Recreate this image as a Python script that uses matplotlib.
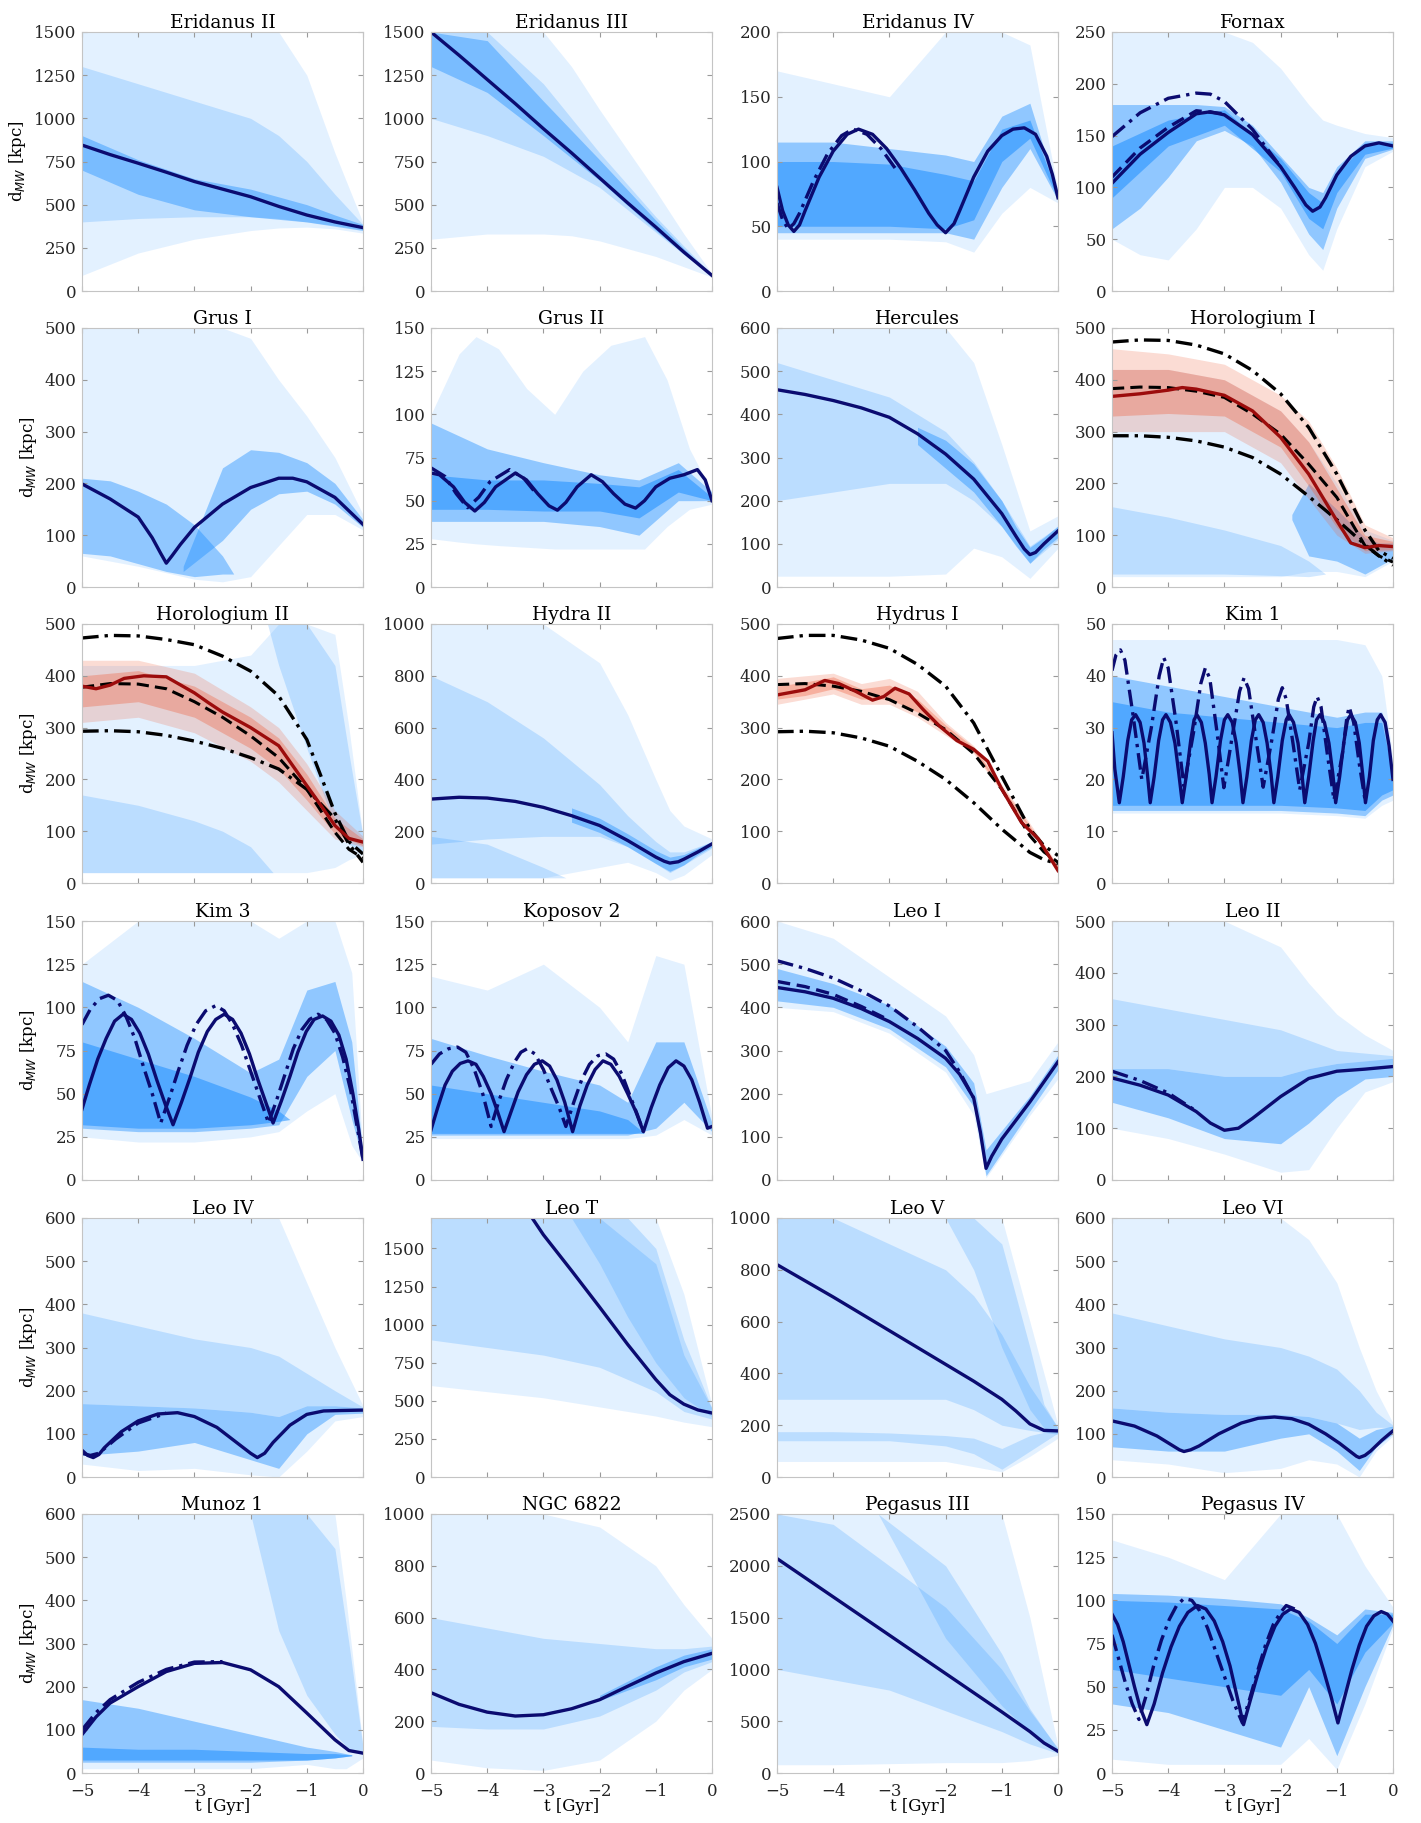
import matplotlib
matplotlib.use('Agg')
import matplotlib.pyplot as plt

plt.rcParams['font.family'] = ['DejaVu Serif']
plt.rcParams['mathtext.fontset'] = 'dejavusans'

# ---------------- data ----------------
T11 = [-5, -4.5, -4, -3.5, -3, -2.5, -2, -1.5, -1, -0.5, 0]
T8 = [-5, -4, -3, -2, -1.5, -1, -0.5, 0]

titles = ['Eridanus II', 'Eridanus III', 'Eridanus IV', 'Fornax',
          'Grus I', 'Grus II', 'Hercules', 'Horologium I',
          'Horologium II', 'Hydra II', 'Hydrus I', 'Kim 1',
          'Kim 3', 'Koposov 2', 'Leo I', 'Leo II',
          'Leo IV', 'Leo T', 'Leo V', 'Leo VI',
          'Munoz 1', 'NGC 6822', 'Pegasus III', 'Pegasus IV']
ymax = [1500, 1500, 200, 250, 500, 150, 600, 500, 500, 1000, 500, 50,
        150, 150, 600, 500, 600, 1700, 1000, 600, 600, 1000, 2500, 150]
ystep = [250, 250, 50, 50, 100, 25, 100, 100, 100, 200, 100, 10,
         25, 25, 100, 100, 100, 250, 200, 100, 100, 200, 500, 25]
ytop_tick = [1500, 1500, 200, 250, 500, 150, 600, 500, 500, 1000, 500, 50,
             150, 150, 600, 500, 600, 1500, 1000, 600, 600, 1000, 2500, 150]
xticks = [-5, -4, -3, -2, -1, 0]

# Eridanus II
eri2_main = (T11, [845, 790, 740, 688, 634, 590, 546, 490, 440, 400, 367])
eri2_cloud = [('outer', T8, [90, 220, 300, 350, 365, 370, 360, 335], [1500, 1500, 1500, 1500, 1500, 1250, 800, 395]),
              ('mid', T8, [400, 420, 430, 430, 420, 400, 380, 355], [1300, 1200, 1100, 1000, 900, 750, 560, 385]),
              ('dense', [-5, -4, -3, -2, -1, -0.5, 0], [700, 560, 470, 430, 400, 375, 350], [900, 760, 650, 590, 500, 440, 385])]
# Eridanus III
eri3_main = (T11, [1500, 1365, 1225, 1085, 940, 800, 655, 510, 370, 225, 90])
eri3_cloud = [('outer', [-5, -4, -3, -2.5, -2, -1, -0.5, 0], [300, 330, 330, 320, 290, 200, 140, 80], [1500, 1500, 1500, 1300, 1050, 580, 330, 100]),
              ('mid', [-5, -4, -3, -2, -1, -0.5, 0], [1000, 900, 780, 600, 340, 210, 85], [1500, 1500, 1200, 800, 430, 260, 95]),
              ('dense', [-5, -4, -3, -2, -1, -0.5, 0], [1300, 1150, 900, 640, 350, 215, 87], [1500, 1450, 1100, 760, 410, 245, 93])]
# Eridanus IV
eri4_main = ([-5, -4.9, -4.8, -4.7, -4.6, -4.5, -4.25, -4.0, -3.75, -3.55, -3.3, -3.05, -2.8, -2.55, -2.3, -2.15, -2.0, -1.85, -1.75, -1.5, -1.25, -1.0, -0.8, -0.6, -0.4, -0.2, -0.1, 0],
             [80, 62, 51, 46, 51, 62, 88, 108, 121, 125, 121, 110, 95, 78, 60, 51, 45, 52, 62, 88, 108, 120, 125, 126, 121, 104, 90, 72])
eri4_dd = ([-5, -4.9, -4.8, -4.7, -4.6, -4.35, -4.1, -3.85, -3.65, -3.4, -3.15, -2.9],
           [68, 55, 48, 52, 60, 85, 106, 120, 125, 121, 110, 95])
eri4_cloud = [('outer', [-5, -4, -3, -2, -1.5, -1, -0.5, 0], [40, 40, 40, 38, 30, 60, 80, 68], [170, 160, 150, 200, 200, 200, 190, 78]),
              ('dense', [-5, -4, -3, -2, -1.5, -1, -0.5, 0], [45, 45, 45, 45, 40, 80, 110, 70], [115, 115, 110, 105, 100, 135, 145, 75]),
              ('core', [-5, -4, -3, -2, -1.5, -1, -0.5, 0], [50, 50, 50, 48, 55, 100, 118, 71], [100, 100, 98, 90, 85, 125, 132, 74])]
# Fornax
forn_main = ([-5, -4.5, -4, -3.5, -3.25, -3, -2.5, -2, -1.75, -1.55, -1.43, -1.3, -1.2, -1, -0.75, -0.5, -0.25, 0],
             [104, 132, 153, 171, 173, 170, 151, 120, 100, 83, 77, 81, 90, 112, 130, 140, 143, 140])
forn_dd = ([-5, -4.5, -4, -3.5, -3.25, -3, -2.5, -2], [149, 172, 186, 191, 190, 183, 156, 120])
forn_dash = ([-5, -4.5, -4, -3.5, -3], [110, 138, 158, 174, 171])
forn_cloud = [('outer', [-5, -4.5, -4, -3.5, -3, -2.5, -2, -1.5, -1.25, -1, -0.5, 0],
               [50, 35, 30, 60, 100, 100, 80, 35, 20, 60, 120, 135],
               [250, 250, 250, 250, 250, 240, 215, 180, 165, 160, 152, 148]),
              ('dense', [-5, -4.5, -4, -3.5, -3, -2.5, -2, -1.5, -1.25, -1, -0.5, 0],
               [60, 80, 110, 145, 155, 140, 105, 55, 40, 80, 128, 137],
               [180, 180, 180, 180, 178, 160, 130, 100, 95, 120, 145, 145]),
              ('core', [-5, -4, -3, -2, -1.5, -1.25, -1, -0.5, 0],
               [90, 140, 160, 115, 70, 60, 95, 132, 138],
               [140, 165, 175, 128, 95, 85, 112, 143, 143])]
# Grus I
grus1_main = ([-5, -4.5, -4, -3.75, -3.6, -3.5, -3.4, -3.25, -3, -2.5, -2, -1.5, -1.25, -1, -0.5, 0],
              [199, 170, 135, 95, 65, 46, 60, 82, 115, 160, 192, 210, 210, 203, 173, 121])
grus1_cloud = [('outer', [-5, -4, -3, -2.5, -2, -1.5, -1, -0.5, 0], [60, 40, 15, 10, 20, 80, 140, 140, 110], [500, 500, 500, 500, 480, 400, 330, 250, 140]),
               ('dense', [-3.2, -2.5, -2, -1.5, -1, -0.5, 0], [30, 90, 150, 180, 185, 160, 115], [40, 230, 265, 260, 240, 200, 130]),
               ('dense', [-5, -4.5, -4, -3.5, -3, -2.5, -2.3], [65, 60, 45, 30, 20, 25, 25], [210, 205, 185, 160, 120, 60, 25])]
# Grus II
grus2_main = ([-5, -4.85, -4.6, -4.4, -4.22, -4.05, -3.85, -3.5, -3.3, -3.1, -2.9, -2.75, -2.6, -2.4, -2.15, -1.95, -1.75, -1.55, -1.36, -1.2, -1.0, -0.75, -0.5, -0.26, -0.12, 0],
              [66, 65, 58, 49, 44, 49, 58, 66, 62, 54, 47, 44.5, 49, 58, 65, 61, 54, 48, 45.7, 50, 58, 63, 65, 68, 62, 50])
grus2_dd = ([-5, -4.75, -4.55, -4.35, -4.15, -3.95, -3.6, -3.35, -3.15], [69, 64, 54, 46, 52, 61, 68, 63, 55])
grus2_cloud = [('outer', [-5, -4.5, -4.2, -3.8, -3.3, -2.8, -2.3, -1.8, -1.2, -0.8, -0.4, 0],
                [28, 26, 25, 24, 23, 22, 22, 22, 22, 35, 45, 48],
                [100, 135, 145, 138, 115, 100, 125, 140, 145, 120, 80, 55]),
               ('dense', [-5, -4, -3, -2, -1.3, -0.6, 0], [38, 38, 38, 35, 30, 50, 50], [95, 80, 72, 65, 62, 72, 55]),
               ('core', [-5, -4, -3, -2, -1.3, -0.6, 0], [45, 45, 44, 44, 40, 55, 50], [65, 62, 62, 60, 58, 68, 52])]
# Hercules
herc_main = ([-5, -4.5, -4, -3.5, -3, -2.5, -2, -1.5, -1, -0.75, -0.6, -0.5, -0.4, -0.25, 0],
             [457, 446, 432, 415, 393, 355, 308, 250, 170, 118, 88, 75, 80, 100, 130])
herc_cloud = [('outer', T8, [25, 25, 25, 30, 90, 70, 20, 90], [600, 600, 600, 600, 520, 330, 130, 165]),
              ('mid', T8, [200, 220, 240, 240, 200, 140, 55, 110], [520, 480, 440, 360, 290, 200, 95, 140]),
              ('dense', [-2.5, -2, -1.5, -1, -0.75, -0.5, -0.25, 0], [330, 275, 220, 140, 95, 55, 88, 115], [370, 340, 285, 200, 140, 92, 115, 142])]
# Horologium I
hor1_red = ([-5, -4.5, -4, -3.75, -3.5, -3, -2.5, -2, -1.5, -1, -0.75, -0.5, -0.25, 0],
            [368, 373, 380, 385, 382, 370, 340, 289, 218, 128, 85, 76, 80, 78])
hor1_up = ([-5, -4.5, -4, -3.5, -3, -2.5, -2, -1.5, -1, -0.5, -0.25, 0], [473, 477, 476, 467, 450, 418, 373, 308, 218, 110, 70, 55])
hor1_mid = ([-5, -4.5, -4, -3.5, -3, -2.5, -2, -1.5, -1, -0.5, -0.25, 0], [383, 386, 385, 378, 366, 334, 295, 237, 173, 80, 60, 48])
hor1_low = ([-5, -4.5, -4, -3.5, -3, -2.5, -2, -1.5, -1, -0.5, -0.25, 0], [292, 292, 289, 282, 270, 250, 218, 175, 130, 82, 60, 42])
hor1_cloud = [('outer', T8, [20, 20, 20, 20, 30, 30, 20, 50], [420, 420, 400, 340, 280, 200, 110, 90]),
              ('mid', [-5, -4, -3, -2, -1.5, -1.2], [25, 25, 25, 22, 20, 25], [155, 135, 110, 80, 50, 25]),
              ('dense', [-1.8, -1.5, -1, -0.5, -0.25, 0], [130, 60, 50, 25, 40, 55], [140, 200, 150, 95, 85, 85])]
hor1_redcloud = [('outer', T8, [300, 300, 300, 240, 170, 100, 65, 70], [460, 450, 430, 370, 320, 230, 120, 95]),
                 ('dense', T8, [330, 335, 330, 270, 195, 115, 70, 72], [420, 420, 400, 340, 280, 190, 100, 88])]
# Horologium II
hor2_red = ([-5, -4.75, -4.5, -4.25, -3.9, -3.5, -3, -2.75, -2.5, -2, -1.5, -1, -0.75, -0.5, -0.25, 0],
            [380, 375, 382, 395, 400, 398, 367, 348, 330, 300, 265, 188, 150, 111, 86, 79])
hor2_up = ([-5, -4.5, -4, -3.5, -3, -2.5, -2, -1.5, -1, -0.75, -0.5, -0.25, 0], [473, 478, 477, 470, 460, 438, 409, 361, 277, 207, 135, 80, 56])
hor2_mid = ([-5, -4.5, -4, -3.5, -3, -2.5, -2, -1.5, -1, -0.5, -0.25, 0], [378, 385, 384, 375, 350, 320, 284, 242, 181, 98, 65, 48])
hor2_low = ([-5, -4.5, -4, -3.5, -3, -2.5, -2, -1.5, -1, -0.5, -0.25, 0], [293, 294, 292, 285, 274, 260, 242, 220, 181, 124, 75, 40])
hor2_cloud = [('outer', [-5, -4, -3, -2, -1.5, -1, -0.5, -0.25, 0], [20, 20, 20, 20, 20, 20, 30, 45, 55], [420, 420, 420, 440, 500, 500, 480, 300, 90]),
              ('mid', [-1.7, -1.5, -1, -0.5, -0.25, 0], [500, 420, 260, 110, 75, 60], [500, 500, 500, 420, 250, 90]),
              ('mid', [-5, -4, -3, -2.5, -2, -1.6], [20, 20, 20, 20, 20, 20], [170, 150, 120, 100, 70, 20])]
hor2_redcloud = [('outer', T8, [310, 320, 290, 235, 195, 140, 85, 70], [430, 430, 405, 340, 300, 230, 140, 90]),
                 ('dense', T8, [340, 350, 320, 260, 220, 160, 95, 72], [400, 410, 380, 320, 280, 210, 125, 85])]
# Hydra II
hyd2_main = ([-5, -4.5, -4, -3.5, -3, -2.5, -2, -1.5, -1, -0.85, -0.75, -0.6, -0.5, -0.25, 0],
             [324, 331, 328, 315, 292, 260, 222, 164, 100, 84, 77, 82, 92, 120, 151])
hyd2_cloud = [('outer', [-5, -4, -3, -2, -1.5, -1, -0.75, -0.5, 0], [20, 20, 20, 60, 80, 40, 10, 30, 110], [1000, 1000, 1000, 850, 650, 400, 280, 220, 170]),
              ('mid', [-5, -4, -3, -2, -1.5, -1, -0.75, -0.5, 0], [150, 170, 180, 180, 140, 75, 40, 70, 135], [800, 700, 560, 380, 260, 160, 120, 120, 160]),
              ('dense', [-2.5, -2, -1.5, -1, -0.75, -0.5, -0.25, 0], [235, 195, 140, 75, 45, 70, 110, 140], [290, 250, 190, 125, 100, 110, 135, 160]),
              ('mid', [-5, -4, -3, -2.6], [20, 20, 20, 20], [180, 150, 60, 20])]
# Hydrus I
hydr1_red = ([-5, -4.5, -4.15, -3.9, -3.6, -3.3, -3.1, -2.9, -2.65, -2.4, -2.1, -1.8, -1.5, -1.25, -1, -0.65, -0.35, 0],
             [363, 373, 391, 385, 370, 353, 360, 376, 365, 335, 302, 275, 258, 235, 181, 117, 85, 24])
hydr1_up = ([-5, -4.5, -4, -3.5, -3, -2.5, -2, -1.5, -1, -0.5, -0.25, 0], [472, 478, 478, 469, 453, 422, 380, 309, 206, 104, 72, 53])
hydr1_mid = ([-5, -4.5, -4, -3.5, -3, -2.5, -2, -1.5, -1, -0.5, -0.25, 0], [383, 385, 380, 370, 354, 328, 296, 250, 181, 91, 60, 40])
hydr1_low = ([-5, -4.5, -4, -3.5, -3, -2.5, -2, -1.5, -1, -0.5, -0.25, 0], [292, 293, 290, 280, 264, 235, 200, 155, 104, 59, 45, 37])
hydr1_redcloud = [('outer', T11, [345, 355, 365, 345, 345, 320, 285, 250, 175, 100, 25], [395, 400, 405, 385, 395, 370, 310, 265, 190, 115, 35]),
                  ('dense', T11, [355, 362, 375, 355, 355, 330, 292, 254, 178, 104, 26], [380, 388, 398, 375, 382, 355, 305, 262, 186, 110, 32])]
# Kim 1
kim1_t = [-5.0, -4.95, -4.87, -4.8, -4.72, -4.65, -4.58, -4.5, -4.43, -4.37, -4.32, -4.25, -4.17, -4.1, -4.04,
          -3.96, -3.88, -3.81, -3.75, -3.68, -3.6, -3.54, -3.49, -3.41, -3.34, -3.27, -3.22, -3.15, -3.07, -3.0,
          -2.94, -2.86, -2.79, -2.72, -2.67, -2.6, -2.52, -2.45, -2.39, -2.31, -2.24, -2.17, -2.12, -2.05, -1.97,
          -1.9, -1.85, -1.77, -1.69, -1.62, -1.57, -1.5, -1.42, -1.36, -1.30, -1.22, -1.14, -1.07, -1.02, -0.95,
          -0.87, -0.81, -0.75, -0.67, -0.6, -0.54, -0.49, -0.42, -0.35, -0.28, -0.22, -0.14, -0.07, 0.0]
kim1_y = [29, 22, 15.5, 20.5, 27.5, 31.5, 32.5, 31, 27, 21, 15.5, 20.5, 27.5, 31.5, 32.5,
          31, 27, 21, 15.5, 20.5, 27.5, 31.5, 32.5, 31, 27, 21, 15.5, 20.5, 27.5, 31.5,
          32.5, 31, 27, 21, 15.5, 20.5, 27.5, 31.5, 32.5, 31, 27, 21, 15.5, 20.5, 27.5,
          31.5, 32.5, 31, 27, 21, 15.5, 20.5, 27.5, 31.5, 32.5, 31, 27, 21, 15.5, 20.5,
          27.5, 31.5, 32.5, 31, 27, 21, 15.5, 20.5, 27.5, 31.5, 32.5, 31, 26.5, 20]
kim1_main = (kim1_t, kim1_y)
kim1_dd = ([-5, -4.93, -4.85, -4.77, -4.62, -4.47, -4.3, -4.16, -4.08, -4.0, -3.86, -3.72, -3.55, -3.42, -3.34, -3.26,
            -3.13, -3.01, -2.85, -2.73, -2.65, -2.57, -2.44, -2.31, -2.15, -2.04, -1.97, -1.9, -1.78, -1.66, -1.5,
            -1.41, -1.35, -1.28, -1.17, -1.05, -0.9, -0.82, -0.78, -0.7, -0.6, -0.49],
           [41, 44, 45, 43, 32, 20, 30, 40, 43.5, 41.5, 31, 18.7, 29, 38.5, 41.5, 39.5,
            29, 18.4, 29, 37, 39.6, 37.5, 28, 18.5, 28, 35.5, 37.7, 35.5, 27, 18, 27,
            34, 36, 34, 25, 16, 25, 32, 34, 31, 23, 15.5])
kim1_cloud = [('outer', [-5, -4, -3, -2, -1, -0.5, -0.2, 0], [13.5, 13.5, 13.5, 13.5, 13, 12.5, 15, 16], [47, 47, 47, 47, 47, 46, 40, 24]),
              ('dense', [-5, -4, -3, -2, -1, -0.5, -0.2, 0], [14, 14, 14, 14, 13.5, 13, 16, 17], [40, 38, 36, 34, 32, 33, 33, 22]),
              ('core', [-5, -4, -3, -2, -1, -0.5, -0.2, 0], [15, 15, 15, 15, 14.5, 14, 17, 18], [35, 33, 32, 31, 30, 31, 31, 21])]
# Kim 3
kim3_main = ([-5, -4.87, -4.72, -4.57, -4.42, -4.27, -4.12, -3.97, -3.82, -3.67, -3.52, -3.38, -3.23, -3.08, -2.93, -2.77, -2.62, -2.47,
              -2.32, -2.17, -2.02, -1.87, -1.73, -1.6, -1.45, -1.3, -1.16, -1.01, -0.87, -0.72, -0.57, -0.43, -0.3, -0.18, -0.08, 0],
             [41, 55, 70, 82, 92, 96, 93, 85, 73, 58, 44, 32, 45, 59, 74, 86, 93, 96,
              93, 85, 73, 58, 45, 33, 46, 60, 74, 86, 93, 95, 92, 84, 70, 50, 30, 12])
kim3_dd = ([-5, -4.85, -4.69, -4.53, -4.37, -4.22, -4.06, -3.91, -3.75, -3.6, -3.44, -3.29, -3.13, -2.97, -2.8, -2.62, -2.47, -2.32,
            -2.16, -2.0, -1.84, -1.68, -1.53, -1.38, -1.24, -1.09, -0.95, -0.8, -0.65, -0.5, -0.36, -0.22, -0.1, 0],
           [90, 99, 105, 107, 104, 95, 82, 66, 50, 33, 48, 63, 78, 90, 98, 101, 98, 90,
            78, 63, 48, 33, 47, 62, 76, 87, 93, 96, 93, 85, 71, 52, 30, 12])
kim3_cloud = [('outer', [-5, -4, -3, -2, -1.5, -1, -0.5, -0.2, 0], [25, 22, 22, 25, 28, 40, 50, 20, 10], [125, 150, 150, 150, 140, 150, 150, 120, 15]),
              ('dense', [-5, -4, -3, -2, -1.5, -1, -0.5, -0.2, 0], [30, 28, 28, 30, 32, 60, 75, 35, 11], [115, 100, 82, 62, 70, 110, 115, 80, 14]),
              ('core', [-5, -4, -3, -2, -1.5, -1.3], [32, 30, 30, 32, 34, 35], [80, 70, 60, 48, 40, 35])]
# Koposov 2
kop2_main = ([-5, -4.88, -4.75, -4.62, -4.48, -4.34, -4.2, -4.07, -3.93, -3.82, -3.7, -3.57, -3.45, -3.3, -3.16, -3.02, -2.89, -2.76, -2.62, -2.48,
              -2.35, -2.22, -2.08, -1.94, -1.8, -1.65, -1.5, -1.36, -1.22, -1.08, -0.93, -0.78, -0.64, -0.5, -0.36, -0.22, -0.08, 0],
             [29, 42, 55, 63, 67.5, 69, 67, 60, 50, 40, 28, 40, 51, 61, 67, 69, 66, 58, 45, 28,
              43, 55, 64, 69, 67, 60, 50, 40, 28, 42, 55, 65, 69, 66, 58, 45, 30, 31])
kop2_dd = ([-5, -4.85, -4.69, -4.53, -4.38, -4.23, -4.08, -3.93, -3.8, -3.66, -3.52, -3.4, -3.29, -3.15, -3.0, -2.85, -2.72, -2.6,
            -2.46, -2.32, -2.18, -2.03, -1.89, -1.75, -1.6, -1.45, -1.33, -1.22],
           [67, 73, 76, 77, 74, 64, 50, 31, 45, 58, 68, 74, 76, 73, 64, 52, 42, 31,
            45, 58, 67, 72, 73, 70, 61, 48, 38, 28])
kop2_cloud = [('outer', T8, [24, 24, 24, 24, 24, 26, 35, 26], [118, 110, 125, 100, 80, 130, 125, 36]),
              ('dense', T8, [26, 26, 26, 26, 26, 30, 45, 28], [82, 72, 63, 55, 45, 80, 80, 33]),
              ('core', [-5, -4, -3, -2, -1.5, -1.2], [27, 27, 27, 27, 27, 27], [55, 50, 45, 40, 35, 27])]
# Leo I
leo1_main = ([-5, -4.5, -4, -3.5, -3, -2.5, -2, -1.75, -1.5, -1.38, -1.28, -1.18, -1, -0.5, 0],
             [446, 436, 421, 397, 367, 328, 282, 245, 190, 110, 27, 55, 95, 181, 274])
leo1_dd = ([-5, -4.5, -4, -3.5, -3, -2.5, -2, -1.75, -1.5], [508, 490, 468, 438, 403, 355, 300, 250, 190])
leo1_dash = ([-5, -4.5, -4, -3.5, -3], [460, 448, 430, 402, 370])
leo1_cloud = [('outer', [-5, -4, -3, -2, -1.5, -1.28, -0.5, 0], [400, 390, 340, 250, 150, 5, 150, 235], [600, 560, 470, 380, 290, 200, 230, 320]),
              ('dense', [-5, -4, -3, -2, -1.5, -1.28, -0.5, 0], [415, 400, 350, 262, 170, 10, 160, 255], [490, 455, 405, 310, 225, 70, 195, 290])]
# Leo II
leo2_main = ([-5, -4.5, -4, -3.5, -3.25, -3, -2.75, -2.5, -2, -1.5, -1, -0.5, 0],
             [197, 183, 164, 132, 110, 96, 100, 119, 161, 196, 210, 214, 219])
leo2_dd = ([-5, -4.5, -4, -3.5], [210, 192, 168, 133])
leo2_cloud = [('outer', T8, [100, 80, 50, 15, 20, 100, 170, 190], [500, 500, 500, 450, 380, 320, 280, 250]),
              ('dense', T8, [150, 120, 80, 70, 110, 160, 195, 200], [215, 215, 200, 200, 215, 225, 230, 235]),
              ('mid', T8, [215, 215, 200, 200, 215, 225, 230, 235], [350, 330, 310, 290, 270, 250, 245, 240])]
# Leo IV
leo4_main = ([-5, -4.9, -4.8, -4.7, -4.6, -4.3, -4.0, -3.65, -3.3, -3.0, -2.6, -2.2, -2.0, -1.88, -1.75, -1.6, -1.3, -1.0, -0.7, -0.4, 0],
             [62, 50, 45, 52, 68, 105, 130, 146, 149, 140, 115, 75, 55, 45, 55, 80, 120, 145, 153, 154, 155])
leo4_dd = ([-5, -4.85, -4.7, -4.4, -4.0, -3.5], [55, 50, 55, 88, 125, 148])
leo4_cloud = [('outer', T8, [30, 15, 20, 5, 0, 60, 130, 140], [600, 600, 600, 600, 600, 450, 300, 165]),
              ('dense', T8, [50, 60, 80, 40, 20, 100, 145, 148], [170, 165, 160, 150, 140, 165, 165, 160]),
              ('mid', T8, [170, 165, 160, 150, 140, 165, 165, 160], [380, 350, 320, 300, 280, 240, 200, 162])]
# Leo T
leot_main = ([-3.2, -3, -2.5, -2, -1.5, -1, -0.75, -0.5, -0.25, 0], [1700, 1590, 1355, 1115, 870, 640, 540, 478, 440, 420])
leot_cloud = [('outer', [-5, -4, -3, -2, -1, -0.5, 0], [600, 560, 520, 460, 400, 360, 330], [1700, 1700, 1700, 1700, 1700, 1200, 470]),
              ('mid', [-5, -4, -3, -2, -1, -0.5, 0], [900, 850, 800, 720, 560, 430, 380], [1700, 1700, 1700, 1700, 1400, 800, 450]),
              ('mid', [-2.5, -2, -1.5, -1, -0.5, 0], [1700, 1400, 1050, 750, 520, 395], [1700, 1700, 1700, 1500, 900, 450])]
# Leo V
leo5_main = ([-5, -4, -3, -2, -1.5, -1, -0.75, -0.5, -0.25, 0], [820, 695, 565, 435, 370, 300, 255, 205, 180, 178])
leo5_cloud = [('outer', T8, [60, 60, 60, 60, 40, 20, 80, 150], [1000, 1000, 1000, 1000, 1000, 1000, 600, 200]),
              ('mid', T8, [300, 300, 300, 300, 260, 200, 180, 165], [1000, 1000, 900, 800, 700, 550, 350, 190]),
              ('mid', [-2, -1.5, -1, -0.5, -0.25, 0], [1000, 800, 500, 260, 190, 170], [1000, 1000, 900, 500, 280, 190]),
              ('mid', T8, [140, 140, 140, 120, 90, 30, 100, 170], [175, 175, 170, 160, 150, 110, 160, 185])]
# Leo VI
leo6_main = ([-5, -4.6, -4.2, -3.95, -3.8, -3.72, -3.6, -3.45, -3.1, -2.7, -2.4, -2.11, -1.8, -1.5, -1.2, -0.95, -0.75, -0.65, -0.6, -0.5, -0.4, -0.2, 0],
             [130, 118, 95, 75, 63, 59, 63, 72, 100, 125, 136, 139, 135, 122, 100, 78, 58, 48, 45, 50, 60, 85, 107])
leo6_cloud = [('outer', [-5, -4, -3, -2, -1.5, -1, -0.6, -0.3, 0], [40, 30, 10, 20, 40, 30, 0, 60, 95], [600, 600, 600, 600, 550, 450, 300, 200, 125]),
              ('dense', [-5, -4, -3, -2, -1.5, -1, -0.6, -0.3, 0], [70, 60, 60, 90, 100, 60, 15, 70, 100], [160, 150, 145, 145, 140, 125, 90, 110, 118]),
              ('mid', [-5, -4, -3, -2, -1.5, -1, -0.6, -0.3, 0], [160, 150, 145, 145, 140, 125, 110, 115, 115], [380, 350, 320, 300, 280, 250, 200, 150, 120])]
# Munoz 1
mun1_main = ([-5, -4.75, -4.5, -4, -3.5, -3, -2.5, -2, -1.5, -1, -0.5, -0.25, 0],
             [89, 130, 162, 200, 235, 254, 256, 239, 200, 139, 77, 52, 46])
mun1_dd = ([-5, -4.75, -4.5, -4, -3.5, -3, -2.5], [100, 140, 170, 210, 240, 257, 258])
mun1_cloud = [('outer', [-5, -4, -3, -2, -1, -0.5, -0.3, 0], [10, 10, 10, 10, 20, 10, 10, 35], [600, 600, 600, 600, 600, 600, 400, 65]),
              ('dense', [-5, -4, -3, -2, -1, -0.5, -0.2], [25, 25, 25, 25, 30, 35, 40], [170, 150, 120, 90, 60, 50, 42]),
              ('core', [-5, -4, -3, -2, -1, -0.5, -0.2], [30, 30, 30, 30, 30, 35, 40], [60, 55, 55, 50, 45, 45, 42]),
              ('mid', [-2, -1.5, -1, -0.5, -0.25, 0], [600, 330, 180, 90, 55, 42], [600, 600, 600, 520, 300, 60])]
# NGC 6822
ngc_main = (T11, [310, 265, 235, 220, 225, 248, 283, 335, 386, 430, 462])
ngc_cloud = [('outer', [-5, -4, -3, -2, -1, -0.5, 0], [50, 20, 10, 50, 200, 320, 400], [1000, 1000, 1000, 950, 800, 650, 520]),
             ('mid', [-5, -4, -3, -2, -1, -0.5, 0], [180, 170, 170, 220, 320, 390, 430], [600, 560, 520, 500, 480, 480, 490]),
             ('dense', [-2, -1, -0.5, 0], [280, 360, 410, 440], [300, 410, 455, 480])]
# Pegasus III
peg3_main = ([-5, -4, -3, -2, -1, -0.5, -0.25, 0], [2070, 1700, 1330, 960, 590, 400, 290, 210])
peg3_cloud = [('outer', [-5, -4, -3, -2, -1, -0.5, 0], [80, 80, 90, 100, 100, 120, 170], [2500, 2500, 2500, 2500, 2500, 1500, 260]),
              ('mid', [-5, -4, -3, -2, -1, -0.5, 0], [1000, 900, 800, 600, 400, 280, 190], [2500, 2400, 2000, 1600, 1000, 600, 240]),
              ('mid', [-3.2, -2, -1, -0.5, 0], [2500, 1300, 650, 390, 200], [2500, 2000, 1150, 620, 230])]
# Pegasus IV
peg4_main = ([-5, -4.9, -4.8, -4.7, -4.6, -4.5, -4.38, -4.25, -4.1, -3.95, -3.8, -3.65, -3.48, -3.33, -3.18, -3.03, -2.9, -2.78, -2.66,
              -2.54, -2.4, -2.25, -2.1, -1.96, -1.82, -1.67, -1.52, -1.38, -1.24, -1.1, -0.98, -0.86, -0.73, -0.6, -0.47, -0.34, -0.21, -0.1, 0],
             [92, 86, 76, 63, 50, 38, 28, 40, 58, 73, 85, 93, 97, 95, 88, 76, 62, 45, 28,
              42, 58, 73, 85, 92, 95, 93, 86, 75, 60, 44, 29, 44, 60, 74, 85, 91, 93.5, 92, 88])
peg4_dd = ([-5, -4.88, -4.76, -4.64, -4.52, -4.4, -4.26, -4.12, -3.98, -3.85, -3.72, -3.58, -3.44, -3.3, -3.15, -3.0, -2.85, -2.68,
            -2.55, -2.41, -2.27, -2.13, -2.0, -1.9, -1.75],
           [80, 66, 52, 40, 31, 44, 62, 77, 89, 97, 101, 100, 94, 84, 70, 56, 42, 29,
            43, 59, 74, 86, 93, 97, 95])
peg4_cloud = [('outer', T8, [8, 5, 5, 5, 20, 2, 40, 84], [135, 125, 112, 150, 150, 150, 120, 96]),
              ('dense', T8, [40, 35, 25, 15, 50, 10, 50, 86], [104, 103, 101, 98, 90, 80, 95, 93]),
              ('core', T8, [60, 55, 50, 45, 60, 40, 70, 87], [100, 99, 97, 95, 88, 75, 92, 92])]

panels = [
    dict(main=eri2_main, cloud=eri2_cloud),
    dict(main=eri3_main, cloud=eri3_cloud),
    dict(main=eri4_main, dd=[eri4_dd], cloud=eri4_cloud),
    dict(main=forn_main, dd=[forn_dd], dash=[forn_dash], cloud=forn_cloud),
    dict(main=grus1_main, cloud=grus1_cloud),
    dict(main=grus2_main, dd=[grus2_dd], cloud=grus2_cloud),
    dict(main=herc_main, cloud=herc_cloud),
    dict(red=hor1_red, bdd=[hor1_up, hor1_low], bdash=[hor1_mid], cloud=hor1_cloud, redcloud=hor1_redcloud),
    dict(red=hor2_red, bdd=[hor2_up, hor2_low], bdash=[hor2_mid], cloud=hor2_cloud, redcloud=hor2_redcloud),
    dict(main=hyd2_main, cloud=hyd2_cloud),
    dict(red=hydr1_red, bdd=[hydr1_up, hydr1_low], bdash=[hydr1_mid], redcloud=hydr1_redcloud),
    dict(main=kim1_main, dd=[kim1_dd], cloud=kim1_cloud),
    dict(main=kim3_main, dd=[kim3_dd], cloud=kim3_cloud),
    dict(main=kop2_main, dd=[kop2_dd], cloud=kop2_cloud),
    dict(main=leo1_main, dd=[leo1_dd], dash=[leo1_dash], cloud=leo1_cloud),
    dict(main=leo2_main, dd=[leo2_dd], cloud=leo2_cloud),
    dict(main=leo4_main, dd=[leo4_dd], cloud=leo4_cloud),
    dict(main=leot_main, cloud=leot_cloud),
    dict(main=leo5_main, cloud=leo5_cloud),
    dict(main=leo6_main, cloud=leo6_cloud),
    dict(main=mun1_main, dd=[mun1_dd], cloud=mun1_cloud),
    dict(main=ngc_main, cloud=ngc_cloud),
    dict(main=peg3_main, cloud=peg3_cloud),
    dict(main=peg4_main, dd=[peg4_dd], cloud=peg4_cloud),
]

# ---------------- style ----------------
W, H = 1421, 1823
col_left = [82, 431, 777, 1112]
row_top = [32, 328, 624, 921, 1218, 1514]
aw, ah = 281, 259

BLUE = '#1e8fff'
NAVY = '#0b0b70'
DARKRED = '#9c0c0c'
SALMON = '#f0603c'
blue_alpha = {'outer': 0.12, 'mid': 0.2, 'dense': 0.42, 'core': 0.55}
red_alpha = {'outer': 0.22, 'dense': 0.35}
DD = (0, (5, 1.8, 1, 1.8))
DASH = (0, (4, 2))

fig = plt.figure(figsize=(W / 100, H / 100), dpi=100)

for i, p in enumerate(panels):
    r, c = divmod(i, 4)
    ax = fig.add_axes([col_left[c] / W, 1 - (row_top[r] + ah) / H, aw / W, ah / H])
    for kind, t, lo, hi in p.get('cloud', []):
        ax.fill_between(t, lo, hi, color=BLUE, alpha=blue_alpha[kind], lw=0)
    for kind, t, lo, hi in p.get('redcloud', []):
        ax.fill_between(t, lo, hi, color=SALMON, alpha=red_alpha[kind], lw=0)
    for t, y in p.get('bdd', []):
        ax.plot(t, y, color='black', lw=2.4, ls=DD)
    for t, y in p.get('bdash', []):
        ax.plot(t, y, color='black', lw=2.2, ls=DASH)
    for t, y in p.get('dash', []):
        ax.plot(t, y, color=NAVY, lw=2.4, ls=DASH)
    for t, y in p.get('dd', []):
        ax.plot(t, y, color=NAVY, lw=2.4, ls=DD)
    if 'main' in p:
        ax.plot(*p['main'], color=NAVY, lw=2.4, solid_joinstyle='round')
    if 'red' in p:
        ax.plot(*p['red'], color=DARKRED, lw=2.4, solid_joinstyle='round')

    ax.set_xlim(-5, 0)
    ax.set_ylim(0, ymax[i])
    ax.set_xticks(xticks)
    yt = list(range(0, ytop_tick[i] + 1, ystep[i]))
    ax.set_yticks(yt)
    ax.set_title(titles[i], fontsize=13.5, pad=3)
    ax.tick_params(direction='in', top=True, right=True, length=3.5, width=0.8,
                   color='#9a9a9a', labelsize=12, labelcolor='#262626', pad=4)
    ax.tick_params(axis='x', pad=7)
    for s in ax.spines.values():
        s.set_color('#c4c4c4')
        s.set_linewidth(0.8)
    if r < 5:
        ax.set_xticklabels([])
    else:
        ax.set_xlabel('t [Gyr]', fontsize=12, labelpad=-1)
    if c == 0:
        ax.set_ylabel('d$_{MW}$ [kpc]', fontsize=12, labelpad=4)

fig.savefig('out.png', dpi=100)
